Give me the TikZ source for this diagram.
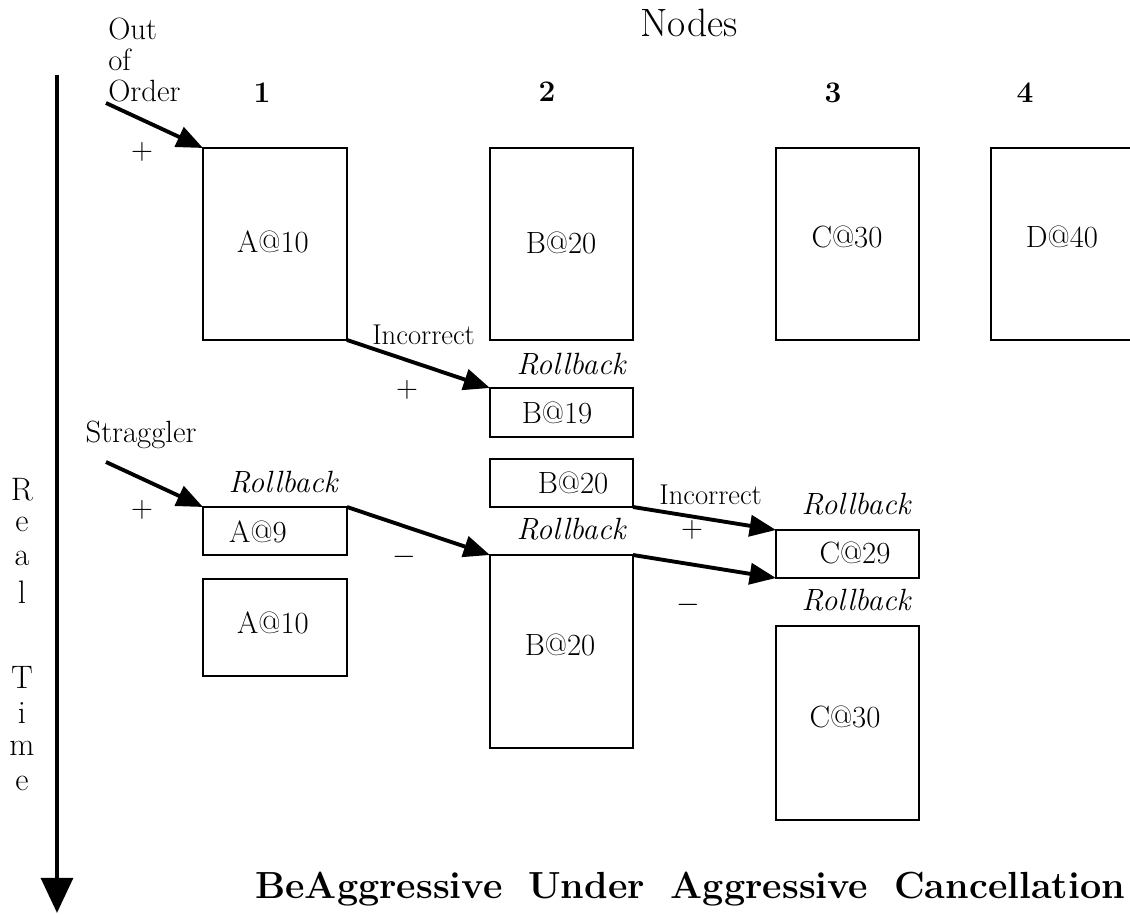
\documentclass[tikz,border=0pt]{standalone}
\usepackage{fontspec}
\usetikzlibrary{arrows.meta,fit}
\begin{document}
\begin{tikzpicture}[x=0.02cm,y=-0.02cm,
  box/.style={draw,line width=1.4pt,inner sep=0pt,outer sep=0pt},
  lbl/.style={inner sep=0pt,font=\fontsize{17.5}{20}\selectfont},
  lblsm/.style={inner sep=0pt,font=\fontsize{16.3}{19}\selectfont},
  num/.style={inner sep=0pt,font=\fontsize{17}{20}\selectfont\bfseries},
  rb/.style={inner sep=0pt,font=\fontsize{17.5}{20}\selectfont\itshape\addfontfeatures{LetterSpace=3}},
  sign/.style={inner sep=0pt,font=\fontsize{17}{20}\selectfont},
  arr/.style={line width=2.2pt,-{Triangle[length=15pt,width=12pt]}},
  timearr/.style={line width=2.6pt,-{Triangle[length=20pt,width=18pt]}}
]
\useasboundingbox (0,0) rectangle (1130,915);
\clip (0,0) rectangle (1130,915);

% time axis
\coordinate (ttop) at (57,75);
\coordinate (tbot) at (57,913);
\draw[timearr] (ttop) -- (tbot);
\foreach \l/\y [count=\i] in {R/490,e/524,a/558,l/592,T/677,i/713,m/748,e/783}
  \node[inner sep=0pt,font=\fontsize{18.5}{21}\selectfont] (rt\i) at (22,\y) {\l};

% headings
\node[inner sep=0pt,anchor=base,font=\fontsize{22.5}{26}\selectfont] (nodes) at (689,37) {Nodes};
\node[num] (n1) at (262,93) {1};
\node[num] (n2) at (547,92) {2};
\node[num] (n3) at (833,93) {3};
\node[num] (n4) at (1025,93) {4};

\node[inner sep=0pt,anchor=north west,align=left,font=\fontsize{17.5}{17.6}\selectfont] (ooo) at (108,18) {Out\\of\\Order};

% first row of boxes
\node[box,fit={(203,148) (347,340)}] (a10) {};
\node[box,fit={(490,148) (633,340)}] (b20) {};
\node[box,fit={(776,148) (919,340)}] (c30) {};
\node[box,fit={(991,148) (1135,340)}] (d40) {};
\node[lbl] (ta10) at (273,242) {A@10};
\node[lbl] (tb20) at (561,243) {B@20};
\node[lbl] (tc30) at (847,237) {C@30};
\node[lbl] (td40) at (1062,237) {D@40};

% node 2 second stage
\node[box,fit={(490,388) (633,437)}] (b19) {};
\node[box,fit={(490,459) (633,507)}] (b20s) {};
\node[box,fit={(490,555) (633,748)}] (b20b) {};
\node[lbl] (tb19) at (557,413) {B@19};
\node[lbl] (tb20s) at (573,483) {B@20};
\node[lbl] (tb20b) at (560,645) {B@20};

% node 1 second stage
\node[box,fit={(203,507) (347,555)}] (a9) {};
\node[box,fit={(203,579) (347,676)}] (a10b) {};
\node[lbl] (ta9) at (258,532) {A@9};
\node[lbl] (ta10b) at (273,623) {A@10};

% node 3 second stage
\node[box,fit={(776,530) (919,578)}] (c29) {};
\node[box,fit={(776,626) (919,820)}] (c30b) {};
\node[lbl] (tc29) at (855,553) {C@29};
\node[lbl] (tc30b) at (845,717) {C@30};

% labels
\node[lbl,anchor=base] (strag) at (141,443) {Straggler};
\node[lblsm,anchor=base west] (inc1) at (372,345) {Incorrect};
\node[lblsm,anchor=base west] (inc2) at (659,505) {Incorrect};
\node[rb] (rb1) at (571,364) {Rollback};
\node[rb] (rb2) at (283,482) {Rollback};
\node[rb] (rb3) at (571,529) {Rollback};
\node[rb] (rb4) at (856,504) {Rollback};
\node[rb] (rb5) at (856,600) {Rollback};

\node[sign] (p1) at (142,152) {$+$};
\node[sign] (p2) at (407,390) {$+$};
\node[sign] (p3) at (142,510) {$+$};
\node[sign] (p4) at (692,530) {$+$};
\node[sign] (m1) at (404,557) {$-$};
\node[sign] (m2) at (688,605) {$-$};

% arrows
\coordinate (oostart) at (106,103);
\coordinate (stragstart) at (106,462);
\draw[arr] (oostart) -- (a10.north west);
\draw[arr] (a10.south east) -- (b19.north west);
\draw[arr] (stragstart) -- (a9.north west);
\draw[arr] (a9.north east) -- (b20b.north west);
\draw[arr] (b20s.south east) -- (c29.north west);
\draw[arr] (b20b.north east) -- (c29.south west);

% title
\node[inner sep=0pt,anchor=base west,font=\fontsize{21.5}{25}\selectfont\bfseries] (title) at (255,898)
  {\makebox[495pt][s]{BeAggressive Under Aggressive Cancellation}};
\end{tikzpicture}
\end{document}
